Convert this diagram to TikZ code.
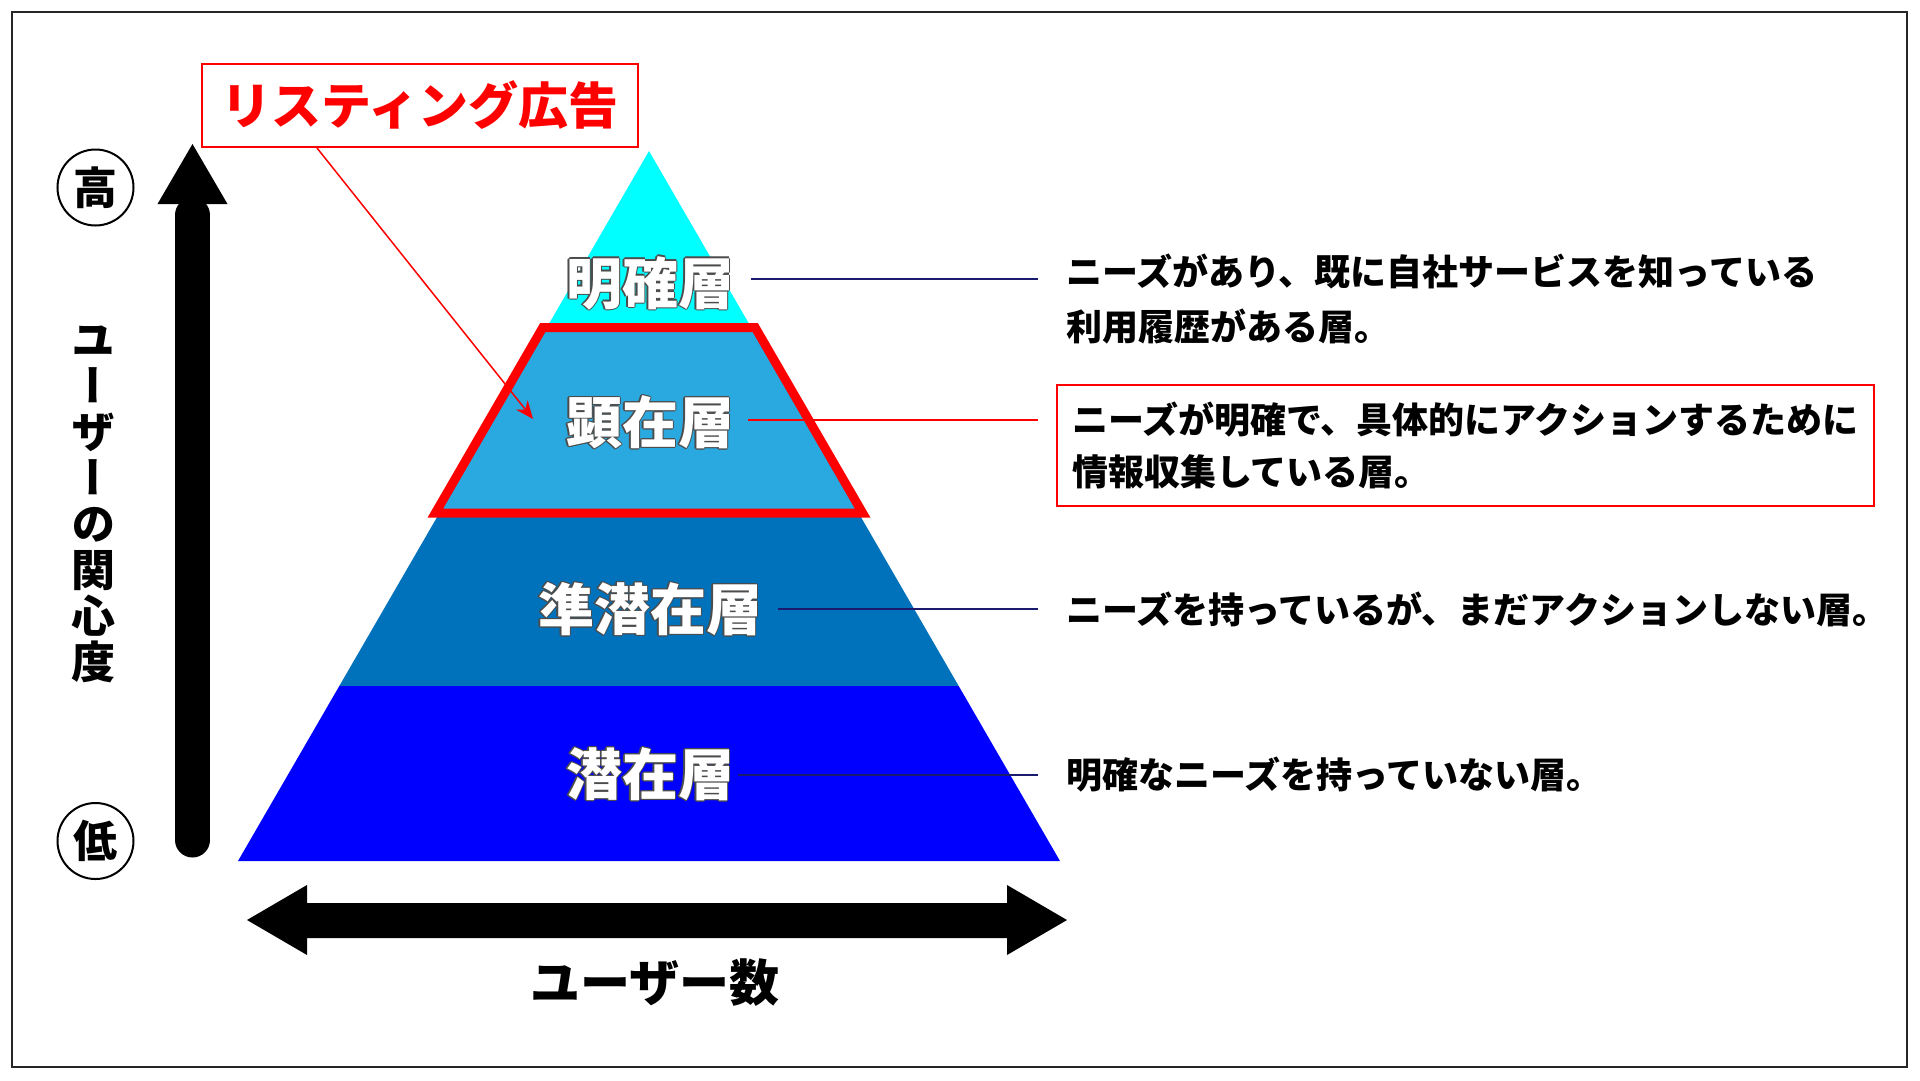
\documentclass[tikz,border=0pt]{standalone}
\usepackage{fontspec}
\usetikzlibrary{arrows.meta}
\newfontfamily\jp{Noto Sans CJK JP}
\newfontfamily\jpv[RawFeature={+vert}]{Noto Sans CJK JP}
\definecolor{layA}{HTML}{00FFFF}
\definecolor{layB}{HTML}{29A9E0}
\definecolor{layC}{HTML}{0071BB}
\definecolor{layD}{HTML}{0000FF}
\definecolor{navyline}{HTML}{1A1A6E}
\definecolor{outc}{gray}{0.3}
\newcommand\outlpiece[3]{\rlap{\kern#1\raisebox{#2}{\textcolor{outc}{#3}}}}
\newcommand\outltext[1]{\outlpiece{1.1pt}{0pt}{#1}\outlpiece{-1.1pt}{0pt}{#1}\outlpiece{0pt}{1.1pt}{#1}\outlpiece{0pt}{-1.1pt}{#1}\outlpiece{0.8pt}{0.8pt}{#1}\outlpiece{-0.8pt}{0.8pt}{#1}\outlpiece{0.8pt}{-0.8pt}{#1}\outlpiece{-0.8pt}{-0.8pt}{#1}\textcolor{white}{#1}}
\begin{document}
\begin{tikzpicture}[x=1pt,y=-1pt,
  layerlab/.style={inner sep=0pt, font=\jp\bfseries\fontsize{56}{56}\selectfont},
  desctext/.style={inner sep=0pt, anchor=west, align=left, font=\jp\bfseries\fontsize{36}{55}\selectfont},
  conn/.style={line width=2pt, navyline},
  marker/.style={circle, draw, line width=2pt, minimum size=76pt, inner sep=0pt, font=\jp\bfseries\fontsize{44}{44}\selectfont},
  bigarrow/.style={fill=black},
]
\useasboundingbox (0,0) rectangle (1920,1080);
\fill[white] (0,0) rectangle (1920,1080);
\draw[line width=2.5pt, black!85] (12,12) rectangle (1907,1067);

% pyramid layers
\begin{scope}
  \clip (649,151) -- (1060,861) -- (238,861) -- cycle;
  \fill[layA] (0,140) rectangle (1920,327);
  \fill[layB] (0,327) rectangle (1920,513);
  \fill[layC] (0,513) rectangle (1920,686);
  \fill[layD] (0,686) rectangle (1920,870);
\end{scope}
% red outline of the 顕在層
\draw[red, line width=9pt, line join=miter] (542.8,327.5) -- (755.2,327.5) -- (862.6,513) -- (435.4,513) -- cycle;

% layer labels
\node[layerlab] (lab1) at (650,283) {\outltext{明確層}};
\node[layerlab] (lab2) at (650,422) {\outltext{顕在層}};
\node[layerlab] (lab3) at (650,609) {\outltext{準潜在層}};
\node[layerlab] (lab4) at (650,774) {\outltext{潜在層}};

% descriptions
\node[desctext] (d1) at (1066,299.5) {ニーズがあり、既に自社サービスを知っている\\利用履歴がある層。};
\node[draw=red, line width=2pt, anchor=north west, minimum width=817pt, minimum height=121pt, inner sep=0pt, align=left, font=\jp\bfseries\fontsize{36}{52}\selectfont] (d2) at (1056,384) {ニーズが明確で、具体的にアクションするために\\情報収集している層。};
\node[desctext] (d3) at (1066,609) {ニーズを持っているが、まだアクションしない層。};
\node[desctext] (d4) at (1066,775) {明確なニーズを持っていない層。};

% connectors
\coordinate (e1) at (1038,279);
\coordinate (e2) at (1038,420);
\coordinate (e3) at (1038,609);
\coordinate (e4) at (1038,775);
\draw[conn] ([xshift=17pt]lab1.east |- e1) -- (e1);
\draw[conn, red] ([xshift=14pt]lab2.east |- e2) -- (e2);
\draw[conn] ([xshift=16pt]lab3.east |- e3) -- (e3);
\draw[conn] ([xshift=4pt]lab4.east |- e4) -- (e4);

% title
\node[draw=red, line width=2pt, minimum width=436pt, minimum height=83pt, inner sep=0pt, text=red, font=\jp\bfseries\fontsize{50}{50}\selectfont] (title) at (420,105.5) {リスティング広告};
\coordinate (ptr) at (533,419);
\draw[red, line width=1.5pt, -{Stealth[length=18pt,width=15pt]}] ([xshift=-103pt]title.south) -- (ptr);

% vertical axis
\fill[bigarrow] (192.5,144) -- (227.5,204) -- (157.5,204) -- cycle;
\draw[line width=35pt, line cap=round] (192.5,215) -- (192.5,840);
\node[marker] (hi) at (95.5,187.5) {高};
\node[marker] (lo) at (95.5,841) {低};
\node[align=center, inner sep=0pt, font=\jpv\bfseries\fontsize{44}{46}\selectfont] (vlab) at (93,504) {ユ\\ー\\ザ\\ー\\の\\関\\心\\度};

% horizontal axis
\fill[bigarrow] (247,920) -- (307,885) -- (307,903) -- (1007,903) -- (1007,885) -- (1067,920) -- (1007,955) -- (1007,938) -- (307,938) -- (307,955) -- cycle;
\node[inner sep=0pt, font=\jp\bfseries\fontsize{50}{50}\selectfont] (hlab) at (655,983) {ユーザー数};
\end{tikzpicture}
\end{document}
